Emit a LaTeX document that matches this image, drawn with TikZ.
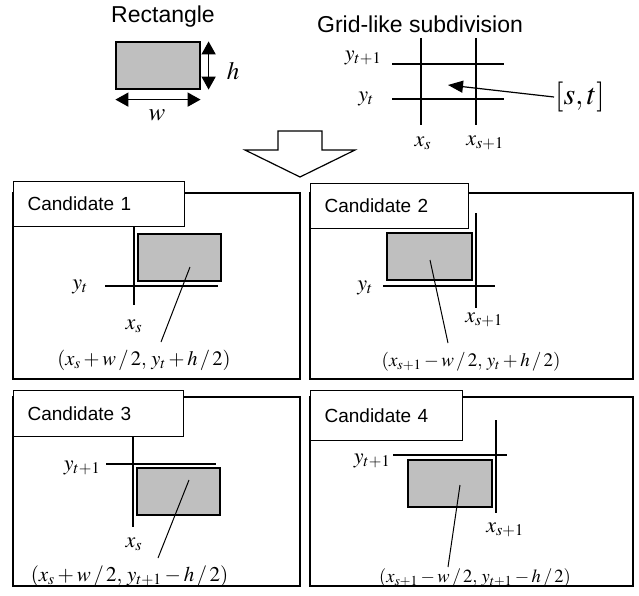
\documentclass[tikz,border=0pt]{standalone}
\usepackage{mathptmx}
\usepackage[no-math]{fontspec}
\setmainfont{Liberation Sans}
\usetikzlibrary{arrows.meta}

\tikzset{
  panel/.style={draw,line width=1.2pt},
  tab/.style={draw,fill=white,line width=1.2pt,anchor=north west,inner xsep=14pt,align=left,font=\fontsize{19}{22}\selectfont},
  block/.style={draw,fill=black!25,line width=1.2pt,inner sep=0pt},
  axis/.style={line width=1.2pt},
  lbl/.style={inner sep=0pt,font=\fontsize{22}{24}\selectfont},
  formula/.style={inner sep=0pt,font=\fontsize{#1}{22}\selectfont},
  formula/.default=19,
  lead/.style={line width=1pt},
  dim/.style={line width=1.6pt,{Triangle[length=13pt,width=14pt]}-{Triangle[length=13pt,width=14pt]}},
}

\begin{document}
\begin{tikzpicture}[x=1pt,y=-1pt]
\useasboundingbox (0,0) rectangle (639,596);
% rectangle with its size
\node[inner sep=0pt,font=\fontsize{23}{25}\selectfont] (rtitle) at (163,17) {Rectangle};
\node[block,minimum width=84pt,minimum height=47pt] (r0) at (158,65.5) {};
\draw[dim] ([xshift=8pt]r0.north east) -- ([xshift=8pt]r0.south east);
\draw[dim] ([yshift=-10pt]r0.south west) -- ([yshift=-10pt]r0.south east);
\node[inner sep=0pt,font=\fontsize{25}{27}\selectfont] (hl) at (233,71) {$h$};
\node[inner sep=0pt,font=\fontsize{25}{27}\selectfont] (wl) at (157,115) {$w$};
% grid
\node[inner sep=0pt,font=\fontsize{23}{25}\selectfont] (gtitle) at (420,24) {Grid-like subdivision};
\draw[axis] (421,38) -- (421,125);
\draw[axis] (476,38) -- (476,125);
\draw[axis] (392,64) -- (504,64);
\draw[axis] (392,99) -- (504,99);
\node[lbl] (gy1) at (363,58) {$y_{t+1}$};
\node[lbl] (gy0) at (366,99) {$y_t$};
\node[lbl] (gx0) at (423,143) {$x_s$};
\node[lbl] (gx1) at (485,143) {$x_{s+1}$};
\node[inner sep=1pt,font=\fontsize{30}{32}\selectfont] (st) at (580,97) {$[s,t]$};
\coordinate (cell) at (448,85);
\draw[line width=1.2pt,-{Triangle[length=15pt,width=12pt]}] (st.west) -- (cell);
% hollow arrow
\draw[line width=1.2pt] (278,131) -- (322,131) -- (322,150) -- (355,150) -- (300,177)
  -- (245,150) -- (278,150) -- cycle;
% candidate 1
\draw[panel] (13,193) rectangle (300,379);
\node[tab,text width=143pt,minimum height=45pt] (tab1) at (13,181) {Candidate 1};
\draw[axis] (134,226) -- (134,305);
\draw[axis] (105,286) -- (218,286);
\node[block,minimum width=83pt,minimum height=47pt] (r1) at (179.5,257.5) {};
\node[lbl] (y1) at (80,287) {$y_t$};
\node[lbl] (x1) at (134,326) {$x_s$};
\node[formula=20.5] (f1) at (144,360) {$(x_s+w\,/\,2,\,y_t+h\,/\,2)$};
\coordinate (p1) at (190,267);
\coordinate (q1) at (161,342);
\draw[lead] (p1) -- (q1);
% candidate 2
\draw[panel] (310,193) rectangle (633,379);
\node[tab,text width=130pt,minimum height=45pt] (tab2) at (310,183) {Candidate 2};
\draw[axis] (476,213) -- (476,308);
\draw[axis] (383,286) -- (495,286);
\node[block,minimum width=85pt,minimum height=47pt] (r2) at (429.5,256.5) {};
\node[lbl] (y2) at (365,288) {$y_t$};
\node[lbl] (x2) at (484,320) {$x_{s+1}$};
\node[formula] (f2) at (471,362) {$(x_{s+1}-w\,/\,2,\,y_t+h\,/\,2)$};
\coordinate (p2) at (430,260);
\coordinate (q2) at (448,343);
\draw[lead] (p2) -- (q2);
% candidate 3
\draw[panel] (13,397) rectangle (300,586);
\node[tab,text width=142pt,minimum height=46pt] (tab3) at (13,390) {Candidate 3};
\draw[axis] (133,436) -- (133,527);
\draw[axis] (106,464) -- (216,464);
\node[block,minimum width=83pt,minimum height=47pt] (r3) at (178.5,491.5) {};
\node[lbl] (y3) at (82,468) {$y_{t+1}$};
\node[lbl] (x3) at (134,544) {$x_s$};
\node[formula=21] (f3) at (129.5,576) {$(x_s+w\,/\,2,\,y_{t+1}-h\,/\,2)$};
\coordinate (p3) at (189,480);
\coordinate (q3) at (158,558);
\draw[lead] (p3) -- (q3);
% candidate 4
\draw[panel] (310,397) rectangle (633,586);
\node[tab,text width=124pt,minimum height=50pt] (tab4) at (310,390) {Candidate 4};
\draw[axis] (496,420) -- (496,513);
\draw[axis] (393,455) -- (507,455);
\node[block,minimum width=84pt,minimum height=47pt] (r4) at (450,483.5) {};
\node[lbl] (y4) at (372,461) {$y_{t+1}$};
\node[lbl] (x4) at (505,530) {$x_{s+1}$};
\node[formula=18.5] (f4) at (475,578) {$(x_{s+1}-w\,/\,2,\,y_{t+1}-h\,/\,2)$};
\coordinate (p4) at (460,485);
\coordinate (q4) at (448,567);
\draw[lead] (p4) -- (q4);
\end{tikzpicture}
\end{document}
